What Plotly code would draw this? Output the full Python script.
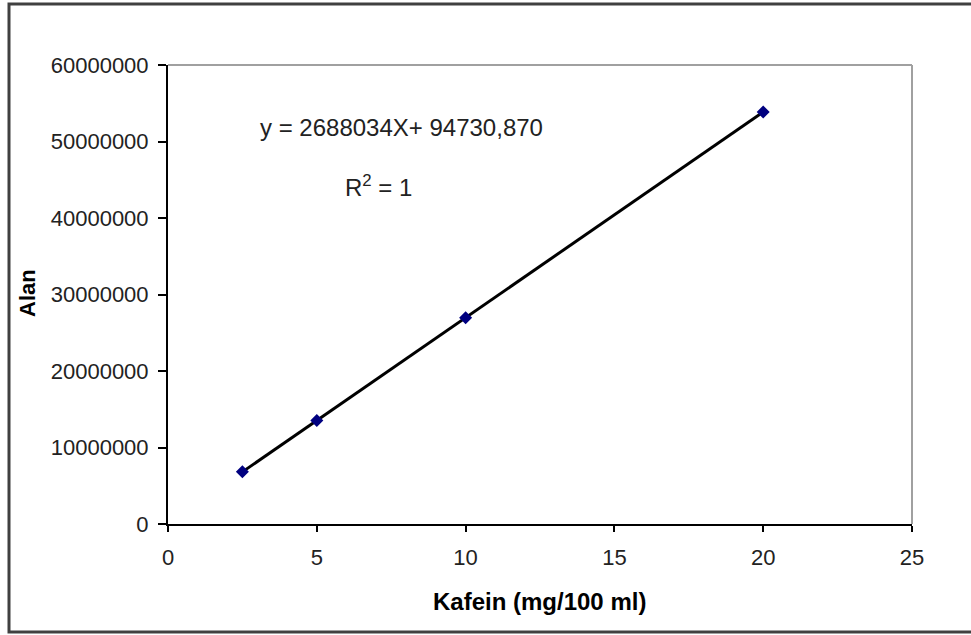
import plotly.graph_objects as go
import numpy as np

# Data
kafein = [2.5, 5, 10, 20]
alan = [6815000, 13530000, 26975000, 53855000]
slope = 2688034
intercept = 94730.870
x_ticks = [0, 5, 10, 15, 20, 25]
y_ticks = [0, 10000000, 20000000, 30000000, 40000000, 50000000, 60000000]
eq_text = "y = 2688034X+ 94730,870"
r2_text = "R<sup>2</sup> = 1"
x_title = "Kafein (mg/100 ml)"
y_title = "Alan"

trend_x = [min(kafein), max(kafein)]
trend_y = [slope * v + intercept for v in trend_x]

FONT = "Liberation Sans, Arial, sans-serif"

fig = go.Figure()
fig.add_trace(go.Scatter(x=trend_x, y=trend_y, mode="lines",
                         line=dict(color="black", width=3), showlegend=False,
                         hoverinfo="skip"))
fig.add_trace(go.Scatter(x=kafein, y=alan, mode="markers",
                         marker=dict(symbol="diamond", size=10, color="#000080"),
                         showlegend=False))

W, H = 971, 635
L, R, T, B = 168, 59, 65, 111
pw, ph = W - L - R, H - T - B

def px(x):
    return (x - L) / pw

def py(y):
    return (H - B - y) / ph

fig.update_layout(
    width=W, height=H,
    margin=dict(l=L, r=R, t=T, b=B),
    paper_bgcolor="white", plot_bgcolor="white",
    font=dict(family=FONT, color="#222222"),
    xaxis=dict(range=[0, 25], tickvals=x_ticks, ticktext=[str(v) for v in x_ticks],
               showgrid=False, zeroline=False, showline=True, linecolor="black",
               linewidth=2, ticks="outside", ticklen=6, tickwidth=2, tickcolor="black",
               tickfont=dict(size=22, family=FONT, color="#222222"),
               ticklabelstandoff=7),
    yaxis=dict(range=[0, 60000000], tickvals=y_ticks, ticktext=[str(v) for v in y_ticks],
               showgrid=False, zeroline=False, showline=True, linecolor="black",
               linewidth=2, ticks="outside", ticklen=8, tickwidth=2, tickcolor="black",
               tickfont=dict(size=22, family=FONT, color="#222222"),
               ticklabelstandoff=5),
    shapes=[
        # top and right plot frame (gray)
        dict(type="line", xref="paper", yref="paper", x0=0, x1=1, y0=1, y1=1,
             line=dict(color="#a0a0a0", width=2)),
        dict(type="line", xref="paper", yref="paper", x0=1, x1=1, y0=0, y1=1,
             line=dict(color="#a0a0a0", width=2)),
        # outer border (left, top, bottom)
        dict(type="path", xref="paper", yref="paper",
             path=f"M {px(975)} {py(4)} L {px(9)} {py(4)} L {px(9)} {py(632)} L {px(975)} {py(632)}",
             line=dict(color="#404040", width=3)),
    ],
    annotations=[
        dict(text=eq_text, x=px(401), y=py(127), xref="paper", yref="paper",
             xanchor="center", yanchor="middle",
             showarrow=False, font=dict(size=24, family=FONT, color="#222222")),
        dict(text=r2_text, x=px(378), y=py(186), xref="paper", yref="paper",
             xanchor="center", yanchor="middle",
             showarrow=False, font=dict(size=24, family=FONT, color="#222222")),
        dict(text=f"<b>{x_title}</b>", x=px(539), y=py(601), xref="paper", yref="paper",
             xanchor="center", yanchor="middle",
             showarrow=False, font=dict(size=24, family=FONT, color="black")),
        dict(text=f"<b>{y_title}</b>", x=px(27), y=py(293), xref="paper", yref="paper",
             xanchor="center", yanchor="middle",
             showarrow=False, textangle=-90, font=dict(size=22, family=FONT, color="black")),
    ],
)

fig.write_html("out.html")
